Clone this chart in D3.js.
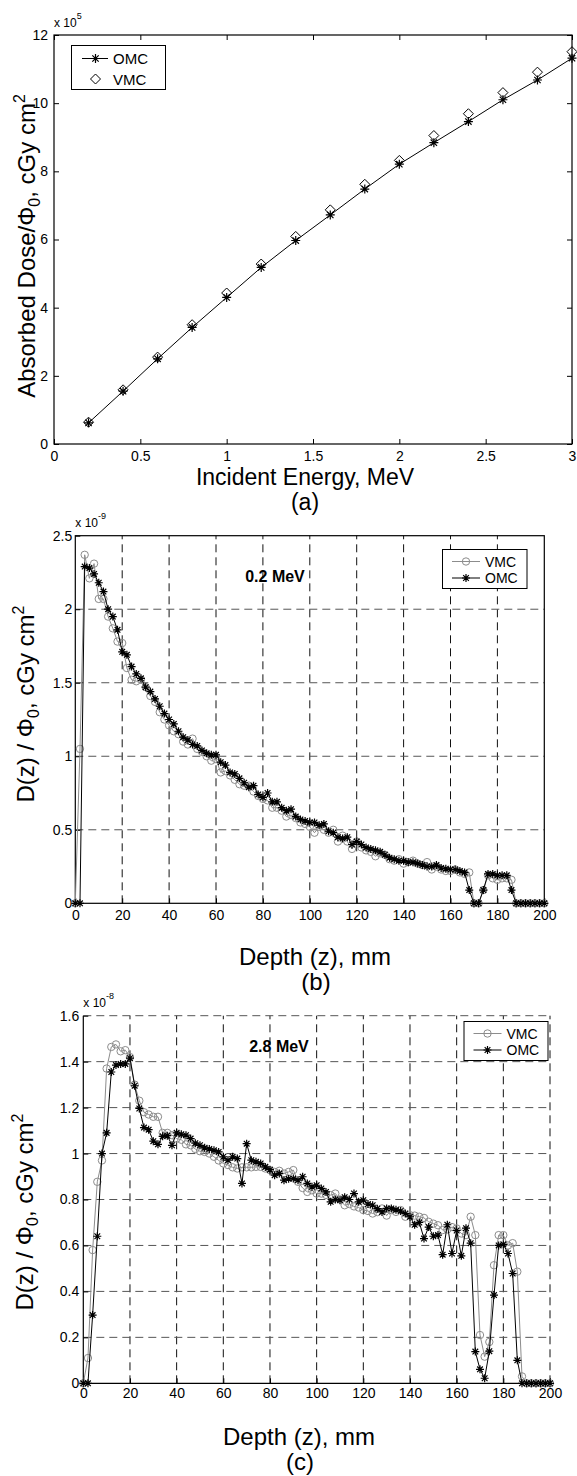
<!DOCTYPE html>
<html><head><meta charset="utf-8">
<script src="https://cdn.jsdelivr.net/npm/d3@7"></script>
<style>
html,body{margin:0;padding:0;background:#fff;}
svg{display:block;}
text{font-family:"Liberation Sans",Arial,Helvetica,sans-serif;fill:#000;}
</style></head>
<body>
<svg id="chart" width="577" height="1476"></svg>
<script>
// ---------- DATA ----------
// Panel (a)
const energyMeV = [0.2,0.4,0.6,0.8,1.0,1.2,1.4,1.6,1.8,2.0,2.2,2.4,2.6,2.8,3.0];
const doseOMC   = [0.62,1.55,2.50,3.42,4.30,5.18,5.97,6.72,7.48,8.21,8.84,9.46,10.10,10.68,11.32]; // x 1e5
const doseVMC   = [0.64,1.59,2.55,3.50,4.43,5.28,6.09,6.87,7.62,8.32,9.05,9.69,10.31,10.91,11.51]; // x 1e5
const aXTicks = [0,0.5,1,1.5,2,2.5,3];
const aXLabels = ["0","0.5","1","1.5","2","2.5","3"];
const aYTicks = [0,2,4,6,8,10,12];
const aYLabels = ["0","2","4","6","8","10","12"];

// Depth grid (mm) shared by panels (b) and (c)
const depthMM = [0,2,4,6,8,10,12,14,16,18,20,22,24,26,28,30,32,34,36,38,40,42,44,46,48,50,
  52,54,56,58,60,62,64,66,68,70,72,74,76,78,80,82,84,86,88,90,92,94,96,98,100,
  102,104,106,108,110,112,114,116,118,120,122,124,126,128,130,132,134,136,138,140,
  142,144,146,148,150,152,154,156,158,160,162,164,166,168,170,172,174,176,178,180,
  182,184,186,188,190,192,194,196,198,200];

// Panel (b) 0.2 MeV, x 1e-9
const b02VMC = [0,1.05,2.37,2.21,2.31,2.07,2.07,1.95,1.87,1.78,1.77,1.60,1.52,1.51,1.52,1.47,1.41,1.37,1.30,1.25,1.21,
  1.17,1.15,1.10,1.08,1.12,1.05,1.03,1.00,0.97,0.98,0.89,0.90,0.87,0.84,0.81,0.80,0.80,0.76,0.73,0.71,
  0.70,0.65,0.65,0.63,0.59,0.60,0.58,0.55,0.54,0.52,0.48,0.52,0.50,0.48,0.50,0.42,0.46,0.42,0.37,0.42,
  0.38,0.36,0.35,0.32,0.34,0.33,0.30,0.29,0.30,0.27,0.28,0.29,0.27,0.26,0.28,0.23,0.25,0.23,0.22,0.22,
  0.23,0.21,0.20,0.21,0,0,0.09,0.19,0.17,0.16,0.17,0.17,0.16,0,0,0,0,0,0,0];
const b02OMC = [0,0,2.29,2.28,2.24,2.18,2.12,2.00,1.95,1.86,1.71,1.69,1.61,1.56,1.53,1.47,1.44,1.39,1.34,1.29,1.25,
  1.22,1.17,1.13,1.11,1.08,1.07,1.04,1.02,1.01,1.01,0.96,0.94,0.89,0.88,0.85,0.82,0.79,0.80,0.74,0.72,
  0.75,0.69,0.69,0.65,0.63,0.64,0.59,0.57,0.56,0.55,0.55,0.53,0.54,0.49,0.48,0.45,0.44,0.45,0.40,0.42,
  0.40,0.38,0.37,0.36,0.35,0.33,0.31,0.30,0.29,0.29,0.28,0.28,0.27,0.26,0.25,0.25,0.26,0.24,0.235,0.23,
  0.23,0.22,0.21,0.09,0,0,0.09,0.20,0.20,0.19,0.19,0.19,0.09,0,0,0,0,0,0,0];
const bXTicks = [0,20,40,60,80,100,120,140,160,180,200];
const bXLabels = ["0","20","40","60","80","100","120","140","160","180","200"];
const bYTicks = [0,0.5,1,1.5,2,2.5];
const bYLabels = ["0","0.5","1","1.5","2","2.5"];

// Panel (c) 2.8 MeV, x 1e-8
const c28VMC = [0,0.11,0.58,0.877,0.97,1.37,1.464,1.475,1.445,1.45,1.42,1.30,1.23,1.18,1.17,1.16,1.16,1.09,1.09,1.08,1.065,
  1.06,1.04,1.036,1.02,1.01,1.007,1.00,0.986,0.97,0.957,0.95,0.94,0.935,0.94,0.94,0.94,0.942,0.942,0.935,0.928,
  0.92,0.925,0.913,0.92,0.928,0.877,0.85,0.833,0.84,0.826,0.826,0.82,0.819,0.826,0.80,0.775,0.78,0.77,0.765,0.754,
  0.75,0.739,0.745,0.761,0.73,0.754,0.746,0.754,0.725,0.732,0.73,0.725,0.72,0.703,0.695,0.688,0.667,0.67,0.68,0.674,
  0.652,0.645,0.725,0.645,0.21,0.116,0.18,0.514,0.645,0.645,0.60,0.61,0.486,0.03,0,0,0,0,0,0];
const c28OMC = [0,0,0.297,0.64,1.00,1.09,1.355,1.385,1.39,1.39,1.415,1.295,1.196,1.113,1.104,1.054,1.04,1.075,1.078,1.036,1.09,
  1.084,1.08,1.065,1.045,1.036,1.025,1.02,1.014,1.007,0.986,0.971,0.986,0.978,0.87,1.043,0.971,0.964,0.957,0.942,0.93,
  0.906,0.913,0.884,0.89,0.891,0.884,0.899,0.87,0.855,0.862,0.848,0.833,0.79,0.80,0.797,0.81,0.80,0.826,0.79,0.797,
  0.78,0.775,0.76,0.746,0.761,0.761,0.755,0.75,0.739,0.725,0.69,0.70,0.63,0.68,0.64,0.645,0.56,0.69,0.565,0.665,
  0.555,0.675,0.61,0.138,0.061,0.022,0.14,0.384,0.60,0.605,0.565,0.478,0.10,0,0,0,0,0,0,0];
const cXTicks = bXTicks;
const cXLabels = bXLabels;
const cYTicks = [0,0.2,0.4,0.6,0.8,1,1.2,1.4,1.6];
const cYLabels = ["0","0.2","0.4","0.6","0.8","1","1.2","1.4","1.6"];

// ---------- DRAWING ----------
const svg = d3.select("#chart");
const FONT = '"Liberation Sans",Arial,Helvetica,sans-serif';
const GRAY = "#8c8c8c";

function starPath(r){
  const d = r*0.7071;
  return `M${-r},0L${r},0M0,${-r}L0,${r}M${-d},${-d}L${d},${d}M${-d},${d}L${d},${-d}`;
}
function diamondPath(r){ return `M0,${-r}L${r},0L0,${r}L${-r},0Z`; }

function styleAxis(g, fs){
  g.select(".domain").remove();
  g.selectAll(".tick line").attr("stroke","#000").attr("stroke-width",1);
  g.selectAll(".tick text").attr("font-family",FONT).attr("font-size",fs).attr("fill","#000");
}

function yTitle(x, y, main){
  const t = svg.append("text").attr("transform",`translate(${x},${y}) rotate(-90)`)
    .attr("text-anchor","middle").attr("font-size",24);
  t.append("tspan").text(main);
  t.append("tspan").attr("font-size",16).attr("dy",5).text("0");
  t.append("tspan").attr("dy",-5).text(", cGy cm");
  t.append("tspan").attr("font-size",16).attr("dy",-10).text("2");
}

function expLabel(x, y, exp){
  const t = svg.append("text").attr("x",x).attr("y",y).attr("font-size",12);
  t.append("tspan").text("x 10");
  t.append("tspan").attr("font-size",9).attr("dy",-8).text(exp);
}

// ===== Panel (a) =====
{
  const X0 = 54, X1 = 572, Y0 = 444, Y1 = 35;
  const x = d3.scaleLinear().domain([0,3]).range([X0,X1]);
  const y = d3.scaleLinear().domain([0,12]).range([Y0,Y1]);
  const gx = svg.append("g").attr("transform",`translate(0,${Y0})`)
    .call(d3.axisBottom(x).tickValues(aXTicks).tickFormat((d,i)=>aXLabels[i]).tickSizeInner(-5).tickSizeOuter(0).tickPadding(7));
  styleAxis(gx,14);
  const gy = svg.append("g").attr("transform",`translate(${X0},0)`)
    .call(d3.axisLeft(y).tickValues(aYTicks).tickFormat((d,i)=>aYLabels[i]).tickSizeInner(-5).tickSizeOuter(0).tickPadding(6));
  styleAxis(gy,14);
  const gt = svg.append("g").attr("transform",`translate(0,${Y1})`)
    .call(d3.axisTop(x).tickValues(aXTicks).tickFormat("").tickSizeInner(-5).tickSizeOuter(0));
  styleAxis(gt,14);
  const gr = svg.append("g").attr("transform",`translate(${X1},0)`)
    .call(d3.axisRight(y).tickValues(aYTicks).tickFormat("").tickSizeInner(-5).tickSizeOuter(0));
  styleAxis(gr,14);
  svg.append("rect").attr("x",X0).attr("y",Y1).attr("width",X1-X0).attr("height",Y0-Y1)
    .attr("fill","none").attr("stroke","#000").attr("stroke-width",1.2);

  const line = d3.line().x((d,i)=>x(energyMeV[i])).y(d=>y(d));
  svg.append("path").datum(doseOMC).attr("d",line).attr("fill","none").attr("stroke","#000").attr("stroke-width",1);
  svg.append("g").selectAll("path").data(doseVMC).join("path")
    .attr("transform",(d,i)=>`translate(${x(energyMeV[i])},${y(d)})`)
    .attr("d",diamondPath(5)).attr("fill","none").attr("stroke","#000").attr("stroke-width",1);
  svg.append("g").selectAll("path").data(doseOMC).join("path")
    .attr("transform",(d,i)=>`translate(${x(energyMeV[i])},${y(d)})`)
    .attr("d",starPath(4.5)).attr("fill","none").attr("stroke","#000").attr("stroke-width",1.2);

  expLabel(X0,27,"5");

  // legend
  svg.append("rect").attr("x",71.5).attr("y",45.5).attr("width",94).attr("height",44)
    .attr("fill","#fff").attr("stroke","#000").attr("stroke-width",1);
  svg.append("line").attr("x1",82).attr("x2",108).attr("y1",58.5).attr("y2",58.5).attr("stroke","#000");
  svg.append("path").attr("transform","translate(95.5,58.5)").attr("d",starPath(4.5)).attr("stroke","#000").attr("stroke-width",1.2).attr("fill","none");
  svg.append("text").attr("x",113).attr("y",64).attr("font-size",15).text("OMC");
  svg.append("path").attr("transform","translate(95.5,79)").attr("d",diamondPath(5)).attr("stroke","#000").attr("fill","none");
  svg.append("text").attr("x",113).attr("y",84.5).attr("font-size",15).text("VMC");

  yTitle(35,246,"Absorbed Dose/Φ");
  svg.append("text").attr("x",305).attr("y",485).attr("text-anchor","middle").attr("font-size",23).text("Incident Energy, MeV");
  svg.append("text").attr("x",305).attr("y",510).attr("text-anchor","middle").attr("font-size",23).text("(a)");
}

// ===== depth panels =====
function depthPanel(o){
  const x = d3.scaleLinear().domain([0,200]).range([o.x0,o.x1]);
  const y = d3.scaleLinear().domain([0,o.ymax]).range([o.y0,o.y1]);
  // grid
  const g = svg.append("g");
  g.selectAll("line.v").data(o.gridX).join("line")
    .attr("x1",d=>x(d)).attr("x2",d=>x(d)).attr("y1",o.y0).attr("y2",o.y1)
    .attr("stroke","#111").attr("stroke-width",1).attr("stroke-dasharray","8,5");
  g.selectAll("line.h").data(o.gridY).join("line")
    .attr("y1",d=>y(d)).attr("y2",d=>y(d)).attr("x1",o.x0).attr("x2",o.x1)
    .attr("stroke","#555").attr("stroke-width",1).attr("stroke-dasharray","8,5");

  const gx = svg.append("g").attr("transform",`translate(0,${o.y0})`)
    .call(d3.axisBottom(x).tickValues(o.xTicks).tickFormat((d,i)=>o.xLabels[i]).tickSizeInner(-5).tickSizeOuter(0).tickPadding(o.xPad));
  styleAxis(gx,14);
  const gy = svg.append("g").attr("transform",`translate(${o.x0},0)`)
    .call(d3.axisLeft(y).tickValues(o.yTicks).tickFormat((d,i)=>o.yLabels[i]).tickSizeInner(-5).tickSizeOuter(0).tickPadding(o.yPad));
  styleAxis(gy,14);

  if(o.box){
    svg.append("rect").attr("x",o.x0).attr("y",o.y1).attr("width",o.x1-o.x0).attr("height",o.y0-o.y1)
      .attr("fill","none").attr("stroke","#000").attr("stroke-width",1.2);
  } else {
    svg.append("line").attr("x1",o.x0).attr("x2",o.x1).attr("y1",o.y0).attr("y2",o.y0).attr("stroke","#000").attr("stroke-width",1.2);
    svg.append("line").attr("x1",o.x0).attr("x2",o.x0).attr("y1",o.y0).attr("y2",o.y1).attr("stroke","#000").attr("stroke-width",1.2);
  }

  const line = d3.line().x((d,i)=>x(depthMM[i])).y(d=>y(d));
  svg.append("path").datum(o.vmc).attr("d",line).attr("fill","none").attr("stroke",GRAY).attr("stroke-width",1);
  svg.append("g").selectAll("circle").data(o.vmc).join("circle")
    .attr("cx",(d,i)=>x(depthMM[i])).attr("cy",d=>y(d)).attr("r",3.7)
    .attr("fill","none").attr("stroke",GRAY).attr("stroke-width",1);
  svg.append("path").datum(o.omc).attr("d",line).attr("fill","none").attr("stroke","#000").attr("stroke-width",1);
  svg.append("g").selectAll("path").data(o.omc).join("path")
    .attr("transform",(d,i)=>`translate(${x(depthMM[i])},${y(d)})`)
    .attr("d",starPath(4)).attr("fill","none").attr("stroke","#000").attr("stroke-width",1.2);

  expLabel(o.x0,o.expY,o.exp);
  svg.append("text").attr("x",o.mevX).attr("y",o.mevY).attr("text-anchor","middle")
    .attr("font-size",16).attr("font-weight","bold").text(o.mev);

  // legend
  const L = o.leg;
  svg.append("rect").attr("x",L.x).attr("y",L.y).attr("width",L.w).attr("height",L.h)
    .attr("fill","#fff").attr("stroke","#000").attr("stroke-width",1);
  const r1 = L.y + 12, r2 = L.y + 28.5;
  svg.append("line").attr("x1",L.x+9.5).attr("x2",L.x+37.5).attr("y1",r1).attr("y2",r1).attr("stroke",GRAY);
  svg.append("circle").attr("cx",L.x+23.5).attr("cy",r1).attr("r",3.7).attr("fill","none").attr("stroke",GRAY);
  svg.append("text").attr("x",L.x+42.5).attr("y",r1+5).attr("font-size",14).text("VMC");
  svg.append("line").attr("x1",L.x+9.5).attr("x2",L.x+37.5).attr("y1",r2).attr("y2",r2).attr("stroke","#000");
  svg.append("path").attr("transform",`translate(${L.x+23.5},${r2})`).attr("d",starPath(4)).attr("stroke","#000").attr("stroke-width",1.2).attr("fill","none");
  svg.append("text").attr("x",L.x+42.5).attr("y",r2+5).attr("font-size",14).text("OMC");

  yTitle(o.ytX,o.ytY,"D(z) / Φ");
  svg.append("text").attr("x",o.xtX).attr("y",o.xtY).attr("text-anchor","middle").attr("font-size",24).text("Depth (z), mm");
  svg.append("text").attr("x",o.xtX+1).attr("y",o.capY).attr("text-anchor","middle").attr("font-size",24).text(o.cap);
}

depthPanel({
  x0:75.3, x1:544.3, y0:903.3, y1:535.7, ymax:2.5,
  gridX:[20,40,60,80,100,120,140,160,180], gridY:[0.5,1,1.5,2],
  xTicks:bXTicks, xLabels:bXLabels, yTicks:bYTicks, yLabels:bYLabels,
  xPad:7, yPad:3, box:true,
  vmc:b02VMC, omc:b02OMC,
  exp:"-9", expY:527, mev:"0.2 MeV", mevX:275, mevY:582,
  leg:{x:442.5,y:549.5,w:84.5,h:39},
  ytX:34, ytY:704, xtX:315, xtY:965, cap:"(b)", capY:990
});

depthPanel({
  x0:83.3, x1:550, y0:1383.3, y1:1015.7, ymax:1.6,
  gridX:[20,40,60,80,100,120,140,160,180,200], gridY:[0.2,0.4,0.6,0.8,1,1.2,1.4,1.6],
  xTicks:cXTicks, xLabels:cXLabels, yTicks:cYTicks, yLabels:cYLabels,
  xPad:5, yPad:4, box:false,
  vmc:c28VMC, omc:c28OMC,
  exp:"-8", expY:1007, mev:"2.8 MeV", mevX:279, mevY:1052,
  leg:{x:464,y:1021.5,w:84,h:39},
  ytX:33, ytY:1212, xtX:299, xtY:1445, cap:"(c)", capY:1470
});
</script>
</body></html>
